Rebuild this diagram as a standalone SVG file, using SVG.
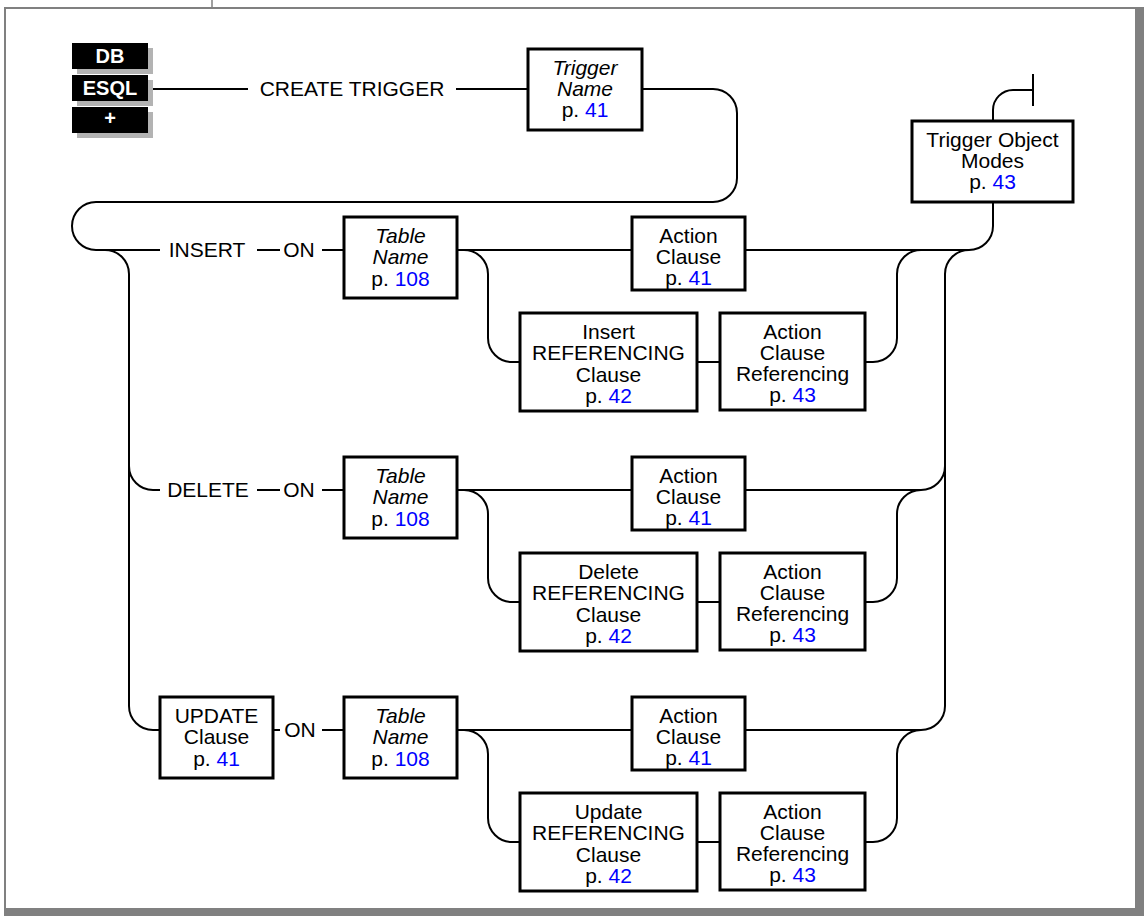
<svg xmlns="http://www.w3.org/2000/svg" width="1144" height="916" viewBox="0 0 1144 916">
<style>
text{font-family:"Liberation Sans",Arial,sans-serif;font-size:21px;fill:#000;text-anchor:middle}
.it{font-style:italic}
.lk{fill:#0000ff}
.badge{font-weight:bold;font-size:20px;fill:#fff}
.box{fill:#fff;stroke:#000;stroke-width:3}
.ln{fill:none;stroke:#000;stroke-width:2}
.frame{fill:#808080}
</style>
<rect width="1144" height="916" fill="#fff"/>
<g id="frame">
<line x1="4" y1="8" x2="1136" y2="8" stroke="#808080" stroke-width="2"/>
<line x1="5" y1="8" x2="5" y2="910" stroke="#808080" stroke-width="2"/>
<line x1="212" y1="0" x2="212" y2="8" stroke="#808080" stroke-width="1.5"/>
<rect class="frame" x="1135" y="7" width="9" height="909"/>
<rect class="frame" x="4" y="908" width="1140" height="8"/>
</g>
<g id="badges">
<rect x="77" y="48" width="76" height="26" fill="#b3b3b3"/>
<rect x="77" y="80" width="76" height="26" fill="#b3b3b3"/>
<rect x="77" y="112" width="76" height="26" fill="#b3b3b3"/>
<rect x="72" y="43" width="76" height="26" fill="#000"/>
<rect x="72" y="75" width="76" height="26" fill="#000"/>
<rect x="72" y="107" width="76" height="26" fill="#000"/>
<text class="badge" x="110" y="63">DB</text>
<text class="badge" x="110" y="95">ESQL</text>
<text class="badge" x="110" y="125">+</text>
</g>
<g id="connectors">
<path class="ln" d="M153,89 H248 M456,89 H528"/>
<path class="ln" d="M642,89 H713 A24,24 0 0 1 737,113 V178 A24,24 0 0 1 713,202 H96 A24,24 0 0 0 96,250 H160"/>
<path class="ln" d="M105,250 A24,24 0 0 1 129,274 V706 A24,24 0 0 0 153,730 H160"/>
<path class="ln" d="M129,466 A24,24 0 0 0 153,490 H160"/>
<path class="ln" d="M257,250 H280 M322,250 H344 M257,490 H280 M322,490 H344 M273,730 H280 M322,730 H344"/>
<!-- insert row -->
<path class="ln" d="M457,250 H632"/>
<path class="ln" d="M464,250 A24,24 0 0 1 488,274 V338 A24,24 0 0 0 512,362 H520 M697,362 H720"/>
<path class="ln" d="M865,362 H873 A24,24 0 0 0 897,338 V274 A24,24 0 0 1 921,250"/>
<path class="ln" d="M745,250 H969 A24,24 0 0 0 993,226 V202"/>
<path class="ln" d="M993,121 V110 A20,20 0 0 1 1013,90 H1033 M1033,74 V106"/>
<path class="ln" d="M969,250 A24,24 0 0 0 945,274 V706 A24,24 0 0 1 921,730 H745"/>
<!-- delete row -->
<path class="ln" d="M457,490 H632"/>
<path class="ln" d="M464,490 A24,24 0 0 1 488,514 V578 A24,24 0 0 0 512,602 H520 M697,602 H720"/>
<path class="ln" d="M865,602 H873 A24,24 0 0 0 897,578 V514 A24,24 0 0 1 921,490"/>
<path class="ln" d="M745,490 H921 A24,24 0 0 0 945,466"/>
<!-- update row -->
<path class="ln" d="M457,730 H632"/>
<path class="ln" d="M464,730 A24,24 0 0 1 488,754 V818 A24,24 0 0 0 512,842 H520 M697,842 H720"/>
<path class="ln" d="M865,842 H873 A24,24 0 0 0 897,818 V754 A24,24 0 0 1 921,730"/>
</g>
<g id="labels">
<text x="352" y="96">CREATE TRIGGER</text>
<text x="207" y="257">INSERT</text>
<text x="299" y="257">ON</text>
<text x="208" y="497">DELETE</text>
<text x="299" y="497">ON</text>
<text x="300" y="737">ON</text>
</g>
<g id="trigger-name">
<rect class="box" x="528" y="49" width="114" height="81"/>
<text class="it" x="585" y="75">Trigger</text>
<text class="it" x="585" y="96">Name</text>
<text x="585" y="117">p. <tspan class="lk">41</tspan></text>
</g>
<g id="trigger-object-modes">
<rect class="box" x="912" y="121" width="161" height="81"/>
<text x="992.5" y="147">Trigger Object</text>
<text x="992.5" y="168">Modes</text>
<text x="992.5" y="189">p. <tspan class="lk">43</tspan></text>
</g>
<g id="insert-table-name">
<rect class="box" x="344" y="217" width="113" height="81"/>
<text class="it" x="400.5" y="243">Table</text>
<text class="it" x="400.5" y="264">Name</text>
<text x="400.5" y="286">p. <tspan class="lk">108</tspan></text>
</g>
<g id="insert-action-clause">
<rect class="box" x="632" y="217" width="113" height="73"/>
<text x="688.5" y="243">Action</text>
<text x="688.5" y="264">Clause</text>
<text x="688.5" y="285">p. <tspan class="lk">41</tspan></text>
</g>
<g id="insert-referencing">
<rect class="box" x="520" y="313" width="177" height="98"/>
<text x="608.5" y="339">Insert</text>
<text x="608.5" y="360">REFERENCING</text>
<text x="608.5" y="382">Clause</text>
<text x="608.5" y="403">p. <tspan class="lk">42</tspan></text>
</g>
<g id="insert-action-referencing">
<rect class="box" x="720" y="313" width="145" height="97"/>
<text x="792.5" y="339">Action</text>
<text x="792.5" y="360">Clause</text>
<text x="792.5" y="381">Referencing</text>
<text x="792.5" y="402">p. <tspan class="lk">43</tspan></text>
</g>
<g id="delete-table-name">
<rect class="box" x="344" y="457" width="113" height="81"/>
<text class="it" x="400.5" y="483">Table</text>
<text class="it" x="400.5" y="504">Name</text>
<text x="400.5" y="526">p. <tspan class="lk">108</tspan></text>
</g>
<g id="delete-action-clause">
<rect class="box" x="632" y="457" width="113" height="73"/>
<text x="688.5" y="483">Action</text>
<text x="688.5" y="504">Clause</text>
<text x="688.5" y="525">p. <tspan class="lk">41</tspan></text>
</g>
<g id="delete-referencing">
<rect class="box" x="520" y="553" width="177" height="98"/>
<text x="608.5" y="579">Delete</text>
<text x="608.5" y="600">REFERENCING</text>
<text x="608.5" y="622">Clause</text>
<text x="608.5" y="643">p. <tspan class="lk">42</tspan></text>
</g>
<g id="delete-action-referencing">
<rect class="box" x="720" y="553" width="145" height="97"/>
<text x="792.5" y="579">Action</text>
<text x="792.5" y="600">Clause</text>
<text x="792.5" y="621">Referencing</text>
<text x="792.5" y="642">p. <tspan class="lk">43</tspan></text>
</g>
<g id="update-clause">
<rect class="box" x="160" y="697" width="113" height="81"/>
<text x="216.5" y="723">UPDATE</text>
<text x="216.5" y="744">Clause</text>
<text x="216.5" y="766">p. <tspan class="lk">41</tspan></text>
</g>
<g id="update-table-name">
<rect class="box" x="344" y="697" width="113" height="81"/>
<text class="it" x="400.5" y="723">Table</text>
<text class="it" x="400.5" y="744">Name</text>
<text x="400.5" y="766">p. <tspan class="lk">108</tspan></text>
</g>
<g id="update-action-clause">
<rect class="box" x="632" y="697" width="113" height="73"/>
<text x="688.5" y="723">Action</text>
<text x="688.5" y="744">Clause</text>
<text x="688.5" y="765">p. <tspan class="lk">41</tspan></text>
</g>
<g id="update-referencing">
<rect class="box" x="520" y="793" width="177" height="98"/>
<text x="608.5" y="819">Update</text>
<text x="608.5" y="840">REFERENCING</text>
<text x="608.5" y="862">Clause</text>
<text x="608.5" y="883">p. <tspan class="lk">42</tspan></text>
</g>
<g id="update-action-referencing">
<rect class="box" x="720" y="793" width="145" height="97"/>
<text x="792.5" y="819">Action</text>
<text x="792.5" y="840">Clause</text>
<text x="792.5" y="861">Referencing</text>
<text x="792.5" y="882">p. <tspan class="lk">43</tspan></text>
</g>
</svg>
